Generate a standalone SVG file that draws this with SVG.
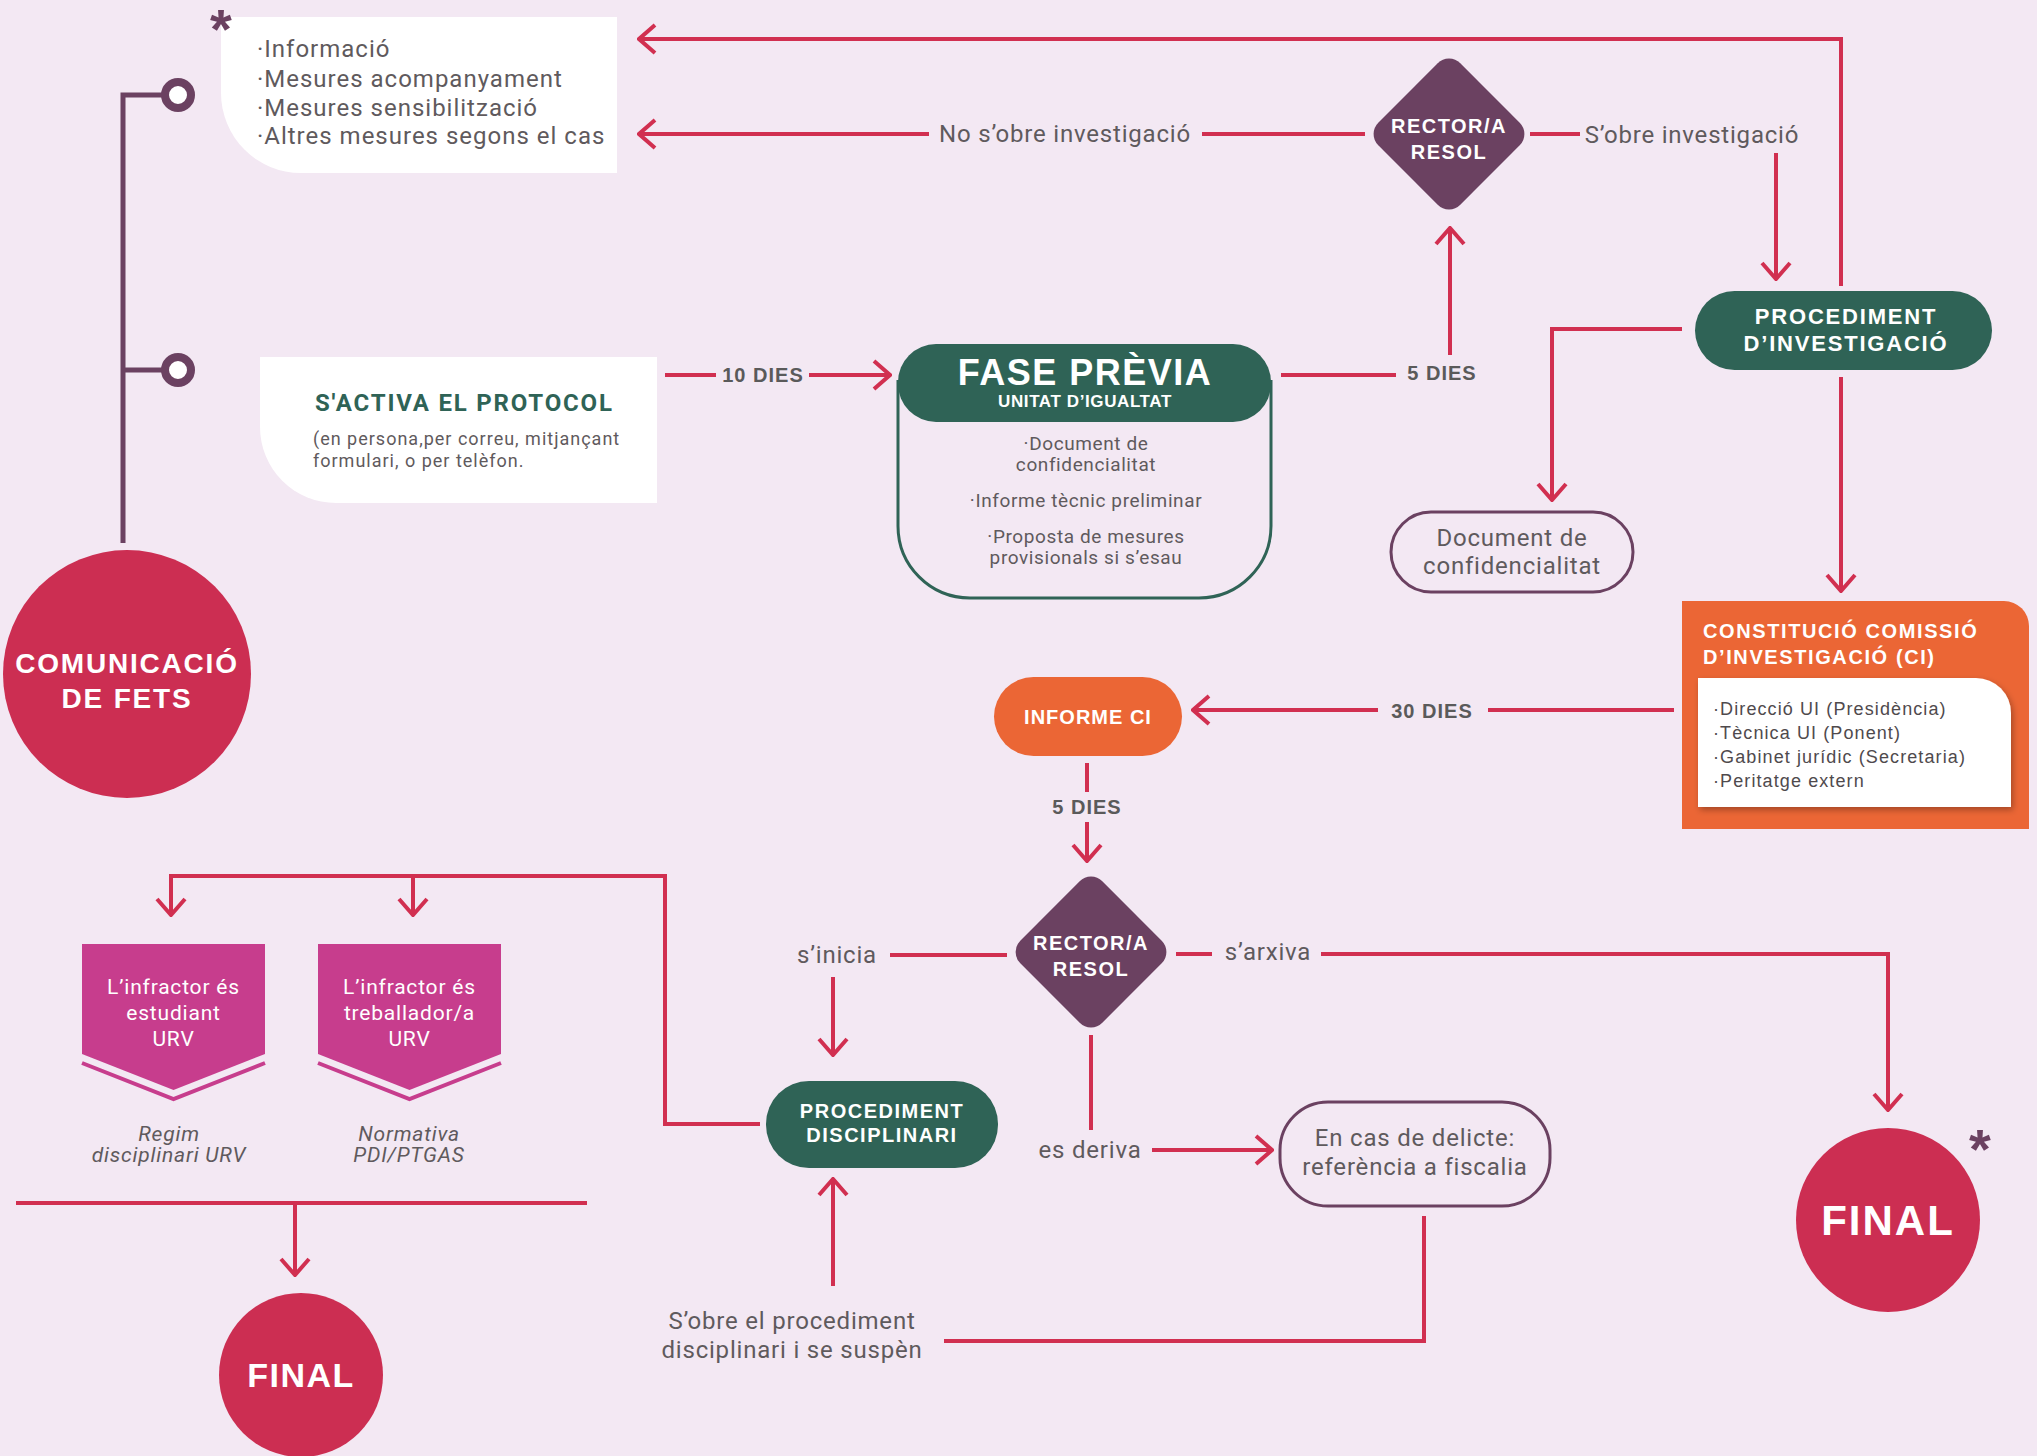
<svg xmlns="http://www.w3.org/2000/svg" width="2037" height="1456" viewBox="0 0 2037 1456">
<defs>
<style>
.bg{fill:#F3E8F3}
.c{fill:none;stroke:#D12F50;stroke-width:4}
.g{font-family:Roboto,"Liberation Sans",sans-serif;fill:#5F5A5D}
.w{font-family:"Liberation Sans",Arial,sans-serif;fill:#ffffff;font-weight:bold}
.lbl{font-family:Roboto,"Liberation Sans",sans-serif;fill:#5F5A5D;font-size:24px;letter-spacing:0.8px}
.days{font-family:"Liberation Sans",Arial,sans-serif;fill:#5A5A5A;font-weight:bold;font-size:20px;letter-spacing:1px}
.mid{text-anchor:middle}
.green{fill:#2F6356}
.purple{fill:#6B4161}
.crim{fill:#CC2E52}
.orange{fill:#EB6635}
.mag{fill:#C73D8D}
</style>
<marker id="ah" viewBox="0 0 20 32" refX="18" refY="16" markerWidth="20" markerHeight="32" markerUnits="userSpaceOnUse" orient="auto">
<path d="M2,2 L18,16 L2,30" fill="none" stroke="#D12F50" stroke-width="4"/>
</marker>
<filter id="sh" x="-10%" y="-10%" width="120%" height="130%">
<feDropShadow dx="2" dy="3" stdDeviation="3" flood-color="#000" flood-opacity="0.3"/>
</filter>
</defs>
<rect class="bg" x="0" y="0" width="2037" height="1456"/>

<g id="connectors">
<path d="M123,543 V95 H165 M123,370 H165" fill="none" stroke="#6B4161" stroke-width="5"/>
<circle cx="178" cy="95" r="13" fill="#fff" stroke="#6B4161" stroke-width="8"/>
<circle cx="178" cy="370" r="13" fill="#fff" stroke="#6B4161" stroke-width="8"/>
<path class="c" d="M1841,286 V39 H639" marker-end="url(#ah)"/>
<path class="c" d="M1365,134 H1202"/>
<path class="c" d="M929,134 H639" marker-end="url(#ah)"/>
<path class="c" d="M1530,134 H1580"/>
<path class="c" d="M1776,153 V279" marker-end="url(#ah)"/>
<path class="c" d="M665,375 H716"/>
<path class="c" d="M809,375 H890" marker-end="url(#ah)"/>
<path class="c" d="M1281,375 H1396"/>
<path class="c" d="M1450,355 V228" marker-end="url(#ah)"/>
<path class="c" d="M1682,329 H1552 V500" marker-end="url(#ah)"/>
<path class="c" d="M1841,377 V591" marker-end="url(#ah)"/>
<path class="c" d="M1674,710 H1488"/>
<path class="c" d="M1378,710 H1193" marker-end="url(#ah)"/>
<path class="c" d="M1087,763 V792"/>
<path class="c" d="M1087,822 V861" marker-end="url(#ah)"/>
<path class="c" d="M1007,955 H890"/>
<path class="c" d="M833,977 V1055" marker-end="url(#ah)"/>
<path class="c" d="M1176,954 H1212"/>
<path class="c" d="M1321,954 H1888 V1110" marker-end="url(#ah)"/>
<path class="c" d="M1091,1035 V1130"/>
<path class="c" d="M1152,1150 H1272" marker-end="url(#ah)"/>
<path class="c" d="M1424,1216 V1341 H944"/>
<path class="c" d="M833,1286 V1179" marker-end="url(#ah)"/>
<path class="c" d="M760,1124 H665 V876 H171 V915" marker-end="url(#ah)"/>
<path class="c" d="M413,876 V915" marker-end="url(#ah)"/>
<path class="c" d="M16,1203 H587"/>
<path class="c" d="M295,1203 V1275" marker-end="url(#ah)"/>
</g>

<g id="mesures">
<path d="M221,17 H617 V173 H301 A80,80 0 0 1 221,93 Z" fill="#fff"/>
<text class="g" x="257" y="57" font-size="24" letter-spacing="1">·Informació</text>
<text class="g" x="257" y="87" font-size="24" letter-spacing="1">·Mesures acompanyament</text>
<text class="g" x="257" y="116" font-size="24" letter-spacing="1">·Mesures sensibilització</text>
<text class="g" x="257" y="144" font-size="24" letter-spacing="1">·Altres mesures segons el cas</text>
<text x="221" y="48" font-family="Liberation Sans, Arial, sans-serif" font-weight="bold" font-size="56" fill="#6B4161" text-anchor="middle">*</text>
</g>

<g id="activa">
<path d="M260,357 H657 V503 H336 A76,76 0 0 1 260,427 Z" fill="#fff"/>
<text x="315" y="411" font-family="Roboto, Liberation Sans, sans-serif" font-weight="bold" font-size="24" letter-spacing="1.8" fill="#2F6356">S'ACTIVA EL PROTOCOL</text>
<text class="g" x="313" y="445" font-size="18" letter-spacing="1">(en persona,per correu, mitjançant</text>
<text class="g" x="313" y="467" font-size="18" letter-spacing="1">formulari, o per telèfon.</text>
</g>

<g id="comunicacio">
<circle class="crim" cx="127" cy="674" r="124"/>
<text class="w mid" x="127" y="673" font-size="28" letter-spacing="1.8">COMUNICACIÓ</text>
<text class="w mid" x="127" y="708" font-size="28" letter-spacing="1.8">DE FETS</text>
</g>

<g id="fase-previa">
<path d="M898,380 V526 A72,72 0 0 0 970,598 H1199 A72,72 0 0 0 1271,526 V380" fill="none" stroke="#2F6356" stroke-width="3"/>
<rect class="green" x="898" y="344" width="373" height="78" rx="38"/>
<text class="w mid" x="1085" y="385" font-family="Roboto, Liberation Sans, sans-serif" font-size="36" letter-spacing="1.5">FASE PRÈVIA</text>
<text class="w mid" x="1085" y="407" font-family="Roboto, Liberation Sans, sans-serif" font-size="17" letter-spacing="0.6">UNITAT D’IGUALTAT</text>
<text class="g mid" x="1086" y="450" font-size="19" letter-spacing="0.6">·Document de</text>
<text class="g mid" x="1086" y="471" font-size="19" letter-spacing="0.6">confidencialitat</text>
<text class="g mid" x="1086" y="507" font-size="19" letter-spacing="0.6">·Informe tècnic preliminar</text>
<text class="g mid" x="1086" y="543" font-size="19" letter-spacing="0.6">·Proposta de mesures</text>
<text class="g mid" x="1086" y="564" font-size="19" letter-spacing="0.6">provisionals si s’esau</text>
</g>

<g id="labels">
<text class="days mid" x="763" y="382">10 DIES</text>
<text class="days mid" x="1442" y="380">5 DIES</text>
<text class="lbl mid" x="1065" y="142" letter-spacing="1">No s’obre investigació</text>
<text class="lbl mid" x="1692" y="143" letter-spacing="1">S’obre investigació</text>
<text class="days mid" x="1432" y="718" letter-spacing="1.8">30 DIES</text>
<text class="days mid" x="1087" y="814">5 DIES</text>
<text class="lbl mid" x="837" y="963">s’inicia</text>
<text class="lbl mid" x="1268" y="960">s’arxiva</text>
<text class="lbl mid" x="1090" y="1158">es deriva</text>
<text class="lbl mid" x="792" y="1329" letter-spacing="1">S’obre el procediment</text>
<text class="lbl mid" x="792" y="1358" letter-spacing="1">disciplinari i se suspèn</text>
</g>

<g id="rector1">
<rect class="purple" x="-58" y="-58" width="116" height="116" rx="16" transform="translate(1449,134) rotate(45)"/>
<text class="w mid" x="1449" y="133" font-size="20" letter-spacing="1.5">RECTOR/A</text>
<text class="w mid" x="1449" y="159" font-size="20" letter-spacing="1.5">RESOL</text>
</g>

<g id="proc-invest">
<rect class="green" x="1695" y="291" width="297" height="79" rx="39.5"/>
<text class="w mid" x="1846" y="324" font-size="22" letter-spacing="1.8">PROCEDIMENT</text>
<text class="w mid" x="1846" y="351" font-size="22" letter-spacing="1.8">D’INVESTIGACIÓ</text>
</g>

<g id="doc-conf">
<rect x="1391" y="512" width="242" height="80" rx="40" fill="none" stroke="#6B4161" stroke-width="3"/>
<text class="lbl mid" x="1512" y="546">Document de</text>
<text class="lbl mid" x="1512" y="574">confidencialitat</text>
</g>

<g id="constitucio">
<path class="orange" d="M1682,601 H2004 A25,25 0 0 1 2029,626 V829 H1682 Z"/>
<text class="w" x="1703" y="638" font-size="20" letter-spacing="1.6">CONSTITUCIÓ COMISSIÓ</text>
<text class="w" x="1703" y="664" font-size="20" letter-spacing="1.6">D’INVESTIGACIÓ (CI)</text>
<path d="M1698,678 H1976 A35,35 0 0 1 2011,713 V807 H1698 Z" fill="#fff" filter="url(#sh)"/>
<text x="1713" y="715" font-family="Liberation Sans, Arial, sans-serif" font-size="18" letter-spacing="1.1" fill="#4F4A4D">·Direcció UI (Presidència)</text>
<text x="1713" y="739" font-family="Liberation Sans, Arial, sans-serif" font-size="18" letter-spacing="1.1" fill="#4F4A4D">·Tècnica UI (Ponent)</text>
<text x="1713" y="763" font-family="Liberation Sans, Arial, sans-serif" font-size="18" letter-spacing="1.1" fill="#4F4A4D">·Gabinet jurídic (Secretaria)</text>
<text x="1713" y="787" font-family="Liberation Sans, Arial, sans-serif" font-size="18" letter-spacing="1.1" fill="#4F4A4D">·Peritatge extern</text>
</g>

<g id="informe-ci">
<rect class="orange" x="994" y="677" width="188" height="79" rx="39.5"/>
<text class="w mid" x="1088" y="724" font-size="20" letter-spacing="1">INFORME CI</text>
</g>

<g id="rector2">
<rect class="purple" x="-58" y="-58" width="116" height="116" rx="16" transform="translate(1091,952) rotate(45)"/>
<text class="w mid" x="1091" y="950" font-size="20" letter-spacing="1.5">RECTOR/A</text>
<text class="w mid" x="1091" y="976" font-size="20" letter-spacing="1.5">RESOL</text>
</g>

<g id="final-right">
<circle class="crim" cx="1888" cy="1220" r="92"/>
<text class="w mid" x="1888" y="1235" font-size="42" letter-spacing="2">FINAL</text>
<text x="1980" y="1168" font-family="Liberation Sans, Arial, sans-serif" font-weight="bold" font-size="56" fill="#6B4161" text-anchor="middle">*</text>
</g>

<g id="fiscalia">
<rect x="1280" y="1102" width="270" height="104" rx="48" fill="none" stroke="#6B4161" stroke-width="3"/>
<text class="lbl mid" x="1415" y="1146" letter-spacing="1.1">En cas de delicte:</text>
<text class="lbl mid" x="1415" y="1175" letter-spacing="1.1">referència a fiscalia</text>
</g>

<g id="proc-disc">
<rect class="green" x="766" y="1081" width="232" height="87" rx="43"/>
<text class="w mid" x="882" y="1118" font-family="Roboto, Liberation Sans, sans-serif" font-size="20" letter-spacing="1.5">PROCEDIMENT</text>
<text class="w mid" x="882" y="1142" font-family="Roboto, Liberation Sans, sans-serif" font-size="20" letter-spacing="1.5">DISCIPLINARI</text>
</g>

<g id="estudiant">
<path class="mag" d="M82,944 H265 V1054 L173.5,1090 L82,1054 Z"/>
<path d="M82,1063 L173.5,1099 L265,1063" fill="none" stroke="#C73D8D" stroke-width="4"/>
<text class="mid" x="173.5" y="994" font-family="Roboto, Liberation Sans, sans-serif" font-size="21" fill="#fff" letter-spacing="0.8">L’infractor és</text>
<text class="mid" x="173.5" y="1020" font-family="Roboto, Liberation Sans, sans-serif" font-size="21" fill="#fff" letter-spacing="0.8">estudiant</text>
<text class="mid" x="173.5" y="1046" font-family="Roboto, Liberation Sans, sans-serif" font-size="21" fill="#fff" letter-spacing="0.8">URV</text>
<text class="g mid" x="169" y="1141" font-size="21" font-style="italic" letter-spacing="0.8">Regim</text>
<text class="g mid" x="169" y="1162" font-size="21" font-style="italic" letter-spacing="0.8">disciplinari URV</text>
</g>

<g id="treballador">
<path class="mag" d="M318,944 H501 V1054 L409.5,1090 L318,1054 Z"/>
<path d="M318,1063 L409.5,1099 L501,1063" fill="none" stroke="#C73D8D" stroke-width="4"/>
<text class="mid" x="409.5" y="994" font-family="Roboto, Liberation Sans, sans-serif" font-size="21" fill="#fff" letter-spacing="0.8">L’infractor és</text>
<text class="mid" x="409.5" y="1020" font-family="Roboto, Liberation Sans, sans-serif" font-size="21" fill="#fff" letter-spacing="0.8">treballador/a</text>
<text class="mid" x="409.5" y="1046" font-family="Roboto, Liberation Sans, sans-serif" font-size="21" fill="#fff" letter-spacing="0.8">URV</text>
<text class="g mid" x="409" y="1141" font-size="21" font-style="italic" letter-spacing="0.8">Normativa</text>
<text class="g mid" x="409" y="1162" font-size="21" font-style="italic" letter-spacing="0.8">PDI/PTGAS</text>
</g>

<g id="final-left">
<circle class="crim" cx="301" cy="1375" r="82"/>
<text class="w mid" x="301" y="1387" font-size="34" letter-spacing="1.5">FINAL</text>
</g>
</svg>
